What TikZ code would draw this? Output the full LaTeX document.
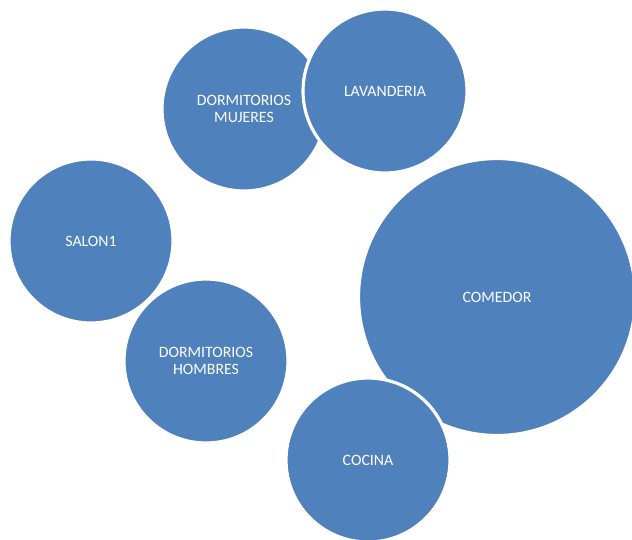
\documentclass[tikz,border=0pt]{standalone}
\usepackage{fontspec}
\setmainfont{Carlito}
\usepackage{xcolor}
\definecolor{roomblue}{HTML}{4F81BD}

\begin{document}
\begin{tikzpicture}[x=0.02cm, y=-0.02cm,
        room/.style={circle, fill=roomblue, draw=white, line width=1.8pt, inner sep=0pt, minimum size=3.28cm, align=center, text=white, font=\fontsize{9}{10}\selectfont},
        bigroom/.style={room, minimum size=5.54cm}
    ]
        \useasboundingbox (0,0) rectangle (632,539);

        % Upper pair
        \node[room] (dormMujeres) at (244,109) {DORMITORIOS\\ MUJERES};
        \node[room] (lavanderia) at (385,91) {LAVANDERIA};

        % Left side
        \node[room] (salon) at (91,241) {SALON1};
        \node[room] (dormHombres) at (206,361) {DORMITORIOS\\ HOMBRES};

        % Right side
        \node[bigroom] (comedor) at (497,297) {COMEDOR};
        \node[room] (cocina) at (368,460) {COCINA};
    \end{tikzpicture}
\end{document}
